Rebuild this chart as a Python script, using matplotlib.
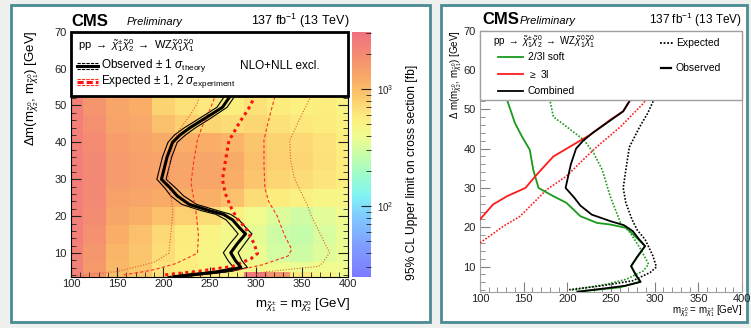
import matplotlib
matplotlib.use("Agg")
import matplotlib.pyplot as plt
import numpy as np
from matplotlib.colors import LinearSegmentedColormap, LogNorm
from matplotlib.patches import Rectangle
from matplotlib.ticker import MultipleLocator, NullFormatter

plt.rcParams['font.family'] = ['Liberation Sans', 'DejaVu Sans']
plt.rcParams['mathtext.fontset'] = 'custom'
plt.rcParams['mathtext.rm'] = 'Liberation Sans'
plt.rcParams['mathtext.it'] = 'Liberation Sans:italic'
plt.rcParams['mathtext.bf'] = 'Liberation Sans:bold'

# ---- upper limit map (fb), rows = dm bins bottom->top, cols = mass bins
mass_edges = [100, 112.5, 137.5, 162.5, 187.5, 212.5, 237.5, 262.5, 287.5, 312.5, 337.5, 362.5, 387.5, 400]
dm_edges = [3.6, 5, 7.5, 12.5, 17.5, 22.5, 27.5, 32.5, 37.5, 42.5, 47.5, 52.5, 57.5]
limit_fb = [
    [2300, 1700, 1000, 900, 650, 620, 560, 520, 2600, 1700, 600, 480, 420],
    [2300, 1600, 1050, 880, 620, 560, 500, 450, 440, 400, 380, 420, 400],
    [2300, 1650, 1100, 900, 680, 560, 480, 430, 380, 310, 290, 340, 380],
    [2350, 1800, 1200, 950, 720, 580, 500, 430, 360, 290, 270, 320, 370],
    [2400, 1950, 1350, 1150, 950, 800, 700, 520, 420, 330, 300, 350, 400],
    [2450, 2050, 1450, 1350, 1250, 1150, 1150, 950, 700, 580, 520, 480, 480],
    [2450, 2100, 1550, 1450, 1400, 1350, 1350, 1200, 900, 750, 700, 620, 560],
    [2450, 2100, 1550, 1450, 1400, 1350, 1350, 1250, 950, 800, 750, 650, 580],
    [2400, 2000, 1500, 1400, 1250, 1200, 1200, 1100, 900, 780, 720, 640, 560],
    [2400, 1850, 1400, 1300, 950, 800, 750, 700, 750, 650, 600, 580, 520],
    [2350, 1700, 1350, 1200, 780, 650, 600, 560, 650, 580, 540, 560, 500],
    [2300, 1650, 1300, 1150, 750, 620, 580, 540, 620, 560, 520, 540, 480],
]

# ---- contours (mass [GeV] vs dm [GeV])
obs_dm = [3.6, 4.3, 5.1, 6.1, 8, 10.1, 12.5, 15.2, 17, 19, 20.5, 21.5, 23.2, 25.5, 27.5, 30, 33, 36, 40, 42, 44, 46.5, 49.5, 52.4, 56]
obs_m = [212, 238, 266, 284, 278, 273, 280, 289, 282, 275, 265, 250, 228, 215, 208, 198, 201, 204, 210, 218, 229, 245, 264, 272, 278]
obs_up_m = [222, 248, 275, 291, 285, 281, 288, 296, 289, 282, 273, 259, 236, 222, 214, 203, 206, 209, 215, 224, 235, 251, 269, 277, 283]
obs_dn_m = [205, 228, 257, 276, 270, 265, 272, 281, 275, 268, 257, 241, 220, 208, 202, 193, 196, 199, 205, 212, 223, 239, 258, 266, 272]

exp_dm = [4.1, 5.1, 6.4, 8.5, 9.9, 12.7, 16.9, 19.3, 22, 26.2, 30, 34.6, 40.4, 45.6, 49, 52.4, 56]
exp_m = [202, 239, 275, 295, 302, 298, 289, 280, 274, 267, 264, 267, 271, 283, 292, 299, 305]

exp_m1_dm = [4.1, 4.9, 5.5, 7.2, 10, 15, 20, 23, 29, 35, 40.7, 44.3, 48, 52.4, 56]
exp_m1_m = [157, 177, 190, 214, 237, 238, 236, 234, 230, 233, 237, 242, 249, 256, 262]
exp_p1_dm = [4.1, 5.4, 6.8, 9.2, 11, 15, 20.2, 24, 27.6, 34, 40.6, 46, 52.6, 56]
exp_p1_m = [239, 281, 307, 335, 339, 331, 323, 314, 310, 309, 309, 314, 321, 325]
exp_m2_dm = [4.0, 5.0, 7.5, 10, 15, 20, 22, 26, 29.5, 35, 40, 43.3, 47, 50.7, 55.3]
exp_m2_m = [113, 150, 190, 206, 208, 210, 210, 208, 205, 207, 211, 217, 228, 237, 242]
exp_p2_dm = [4.1, 4.9, 6.4, 7.2, 10.1, 15.7, 20.2, 23, 30.2, 35, 40.6, 46, 52.6, 56]
exp_p2_m = [300, 310, 368, 372, 380, 369, 360, 356, 342, 338, 337, 347, 360, 366]

soft_obs_dm = [3.6, 4.7, 6.1, 10.1, 15.2, 19.8, 20.7, 21.1, 22.8, 26.2, 27.9, 30, 34.6, 39.7, 43.1, 46.5, 52.4, 56]
soft_obs_m = [212, 260, 283, 273, 289, 268, 249, 234, 215, 199, 184, 167, 161, 157, 148, 140, 131, 127]
soft_exp_dm = [4.0, 5.5, 6.8, 8.9, 10.6, 14.4, 18.6, 21.1, 27.9, 34.6, 38.9, 42.2, 45.6, 48.1, 52.4, 56]
soft_exp_m = [205, 245, 268, 287, 293, 284, 272, 261, 249, 240, 230, 219, 199, 184, 180, 178]
lep3_obs_dm = [22, 25.8, 27.9, 30, 33.4, 38, 40.5, 43.5, 47.3, 49.5, 52.4, 56]
lep3_obs_m = [100, 115, 131, 152, 165, 184, 203, 226, 249, 264, 272, 278]
lep3_exp_dm = [16, 20.3, 22.8, 29.5, 33, 38, 40.5, 45.6, 51.5, 56]
lep3_exp_m = [100, 127, 146, 176, 199, 222, 234, 261, 287, 300]

W, H = 751, 328
fig = plt.figure(figsize=(W / 100, H / 100), dpi=100, facecolor='#eef0ee')


def fbox(x0, y0, x1, y1):
    # pixel box -> figure fractions
    return [x0 / W, 1 - y1 / H, (x1 - x0) / W, (y1 - y0) / H]


# slide panels
for b in [fbox(11, 5, 430, 322), fbox(441, 5, 747, 322)]:
    fig.add_artist(Rectangle((b[0], b[1]), b[2], b[3], transform=fig.transFigure,
                             fc='white', ec='#4a8a94', lw=2, zorder=-5))

cmap = LinearSegmentedColormap.from_list('pastel', [
    (0.00, '#7b7bff'), (0.12, '#7f9cff'), (0.25, '#80ccff'), (0.33, '#80f4f4'),
    (0.42, '#a0fcc8'), (0.50, '#c8fca8'), (0.57, '#eefc90'), (0.64, '#fcf080'),
    (0.72, '#fcd070'), (0.80, '#f9ae66'), (0.88, '#f5946e'), (1.00, '#f07080')])
norm = LogNorm(vmin=25, vmax=3100)

# ================= left panel =================
ax1 = fig.add_axes(fbox(71, 31.7, 348, 276.7))
mesh = ax1.pcolormesh(mass_edges, dm_edges, np.array(limit_fb), cmap=cmap, norm=norm, shading='flat', zorder=1)

ax1.plot(obs_up_m, obs_dm, color='black', lw=0.8, zorder=3)
ax1.plot(obs_dn_m, obs_dm, color='black', lw=0.8, zorder=3)
ax1.plot(obs_m, obs_dm, color='black', lw=2.2, zorder=4)
ax1.plot(exp_m, exp_dm, color='#ff1010', lw=2.2, ls=(0, (1, 1.2)), zorder=3)
ax1.plot(exp_m1_m, exp_m1_dm, color='#ff3020', lw=0.8, ls=(0, (3, 2)), zorder=3)
ax1.plot(exp_p1_m, exp_p1_dm, color='#ff3020', lw=0.8, ls=(0, (3, 2)), zorder=3)
ax1.plot(exp_m2_m, exp_m2_dm, color='#e06030', lw=0.8, ls=(0, (1, 1.5)), zorder=3)
ax1.plot(exp_p2_m, exp_p2_dm, color='#e06030', lw=0.8, ls=(0, (1, 1.5)), zorder=3)

ax1.set_xlim(100, 400)
ax1.set_ylim(3.6, 70)
ax1.xaxis.set_major_locator(MultipleLocator(50))
ax1.xaxis.set_minor_locator(MultipleLocator(10))
ax1.yaxis.set_major_locator(MultipleLocator(10))
ax1.yaxis.set_minor_locator(MultipleLocator(2))
ax1.tick_params(which='both', direction='in', top=True, right=True, labelsize=8, colors='#222222')
ax1.tick_params(which='major', length=7)
ax1.tick_params(which='minor', length=3.5)
ax1.tick_params(axis='y', pad=3)
ax1.tick_params(axis='x', pad=2)
ax1.set_yticks([10, 20, 30, 40, 50, 60, 70])

# legend box
y0 = (52.6 - 3.6) / (70 - 3.6)
ax1.add_patch(Rectangle((0, y0), 1, 1 - y0, transform=ax1.transAxes, fc='white', ec='black', lw=2, zorder=5, clip_on=False))
ax1.text(0.025, 0.942, r'pp $\rightarrow$ $\tilde{\chi}^{\pm}_{1}\tilde{\chi}^{0}_{2}$ $\rightarrow$ WZ$\tilde{\chi}^{0}_{1}\tilde{\chi}^{0}_{1}$',
         transform=ax1.transAxes, fontsize=8, va='center', zorder=6)
ax1.plot([0.022, 0.097], [0.872, 0.872], transform=ax1.transAxes, color='black', lw=0.8, ls=(0, (3, 1)), zorder=6)
ax1.plot([0.022, 0.097], [0.860, 0.860], transform=ax1.transAxes, color='black', lw=2.2, zorder=6)
ax1.plot([0.022, 0.097], [0.848, 0.848], transform=ax1.transAxes, color='black', lw=0.8, ls=(0, (3, 1)), zorder=6)
ax1.text(0.108, 0.860, r'Observed $\pm$ 1 $\sigma_{\mathrm{theory}}$', transform=ax1.transAxes, fontsize=8.5, va='center', zorder=6)
ax1.text(0.61, 0.862, 'NLO+NLL excl.', transform=ax1.transAxes, fontsize=8.5, va='center', zorder=6)
ax1.plot([0.022, 0.097], [0.808, 0.808], transform=ax1.transAxes, color='#ff3020', lw=0.8, ls=(0, (3, 1)), zorder=6)
ax1.plot([0.022, 0.097], [0.795, 0.795], transform=ax1.transAxes, color='#ff1010', lw=2.2, ls=(0, (2, 1)), zorder=6)
ax1.plot([0.022, 0.097], [0.782, 0.782], transform=ax1.transAxes, color='#ff3020', lw=0.8, ls=(0, (3, 1)), zorder=6)
ax1.text(0.108, 0.797, r'Expected $\pm$ 1, 2 $\sigma_{\mathrm{experiment}}$', transform=ax1.transAxes, fontsize=8.5, va='center', zorder=6)

cax = fig.add_axes(fbox(352, 31.7, 371, 276.7))
cb = fig.colorbar(mesh, cax=cax)
cb.outline.set_visible(False)
cax.set_yticks([100, 1000])
cax.set_yticklabels([r'$10^{2}$', r'$10^{3}$'])
cax.yaxis.set_minor_formatter(NullFormatter())
cax.tick_params(which='both', direction='in', right=True, left=False, labelsize=7, colors='#222222', pad=4)
cax.tick_params(which='major', length=7)
cax.tick_params(which='minor', length=3.5)

fig.text(412 / W, 1 - 172 / H, '95% CL Upper limit on cross section [fb]', rotation=90,
         ha='center', va='center', fontsize=8.7)
fig.text(32 / W, 1 - 30 / H, r'$\Delta$m(m$_{\tilde{\chi}^{0}_{2}}$, m$_{\tilde{\chi}^{0}_{1}}$) [GeV]',
         rotation=90, ha='center', va='top', fontsize=9.5)
fig.text(350 / W, 1 - 305 / H, r'm$_{\tilde{\chi}^{\pm}_{1}}$ = m$_{\tilde{\chi}^{0}_{2}}$ [GeV]',
         ha='right', va='center', fontsize=9.5)
fig.text(71 / W, 1 - 21 / H, 'CMS', fontsize=12, weight='bold', va='center')
fig.text(127 / W, 1 - 22 / H, 'Preliminary', fontsize=8, style='italic', va='center')
fig.text(350 / W, 1 - 21 / H, r'137 fb$^{-1}$ (13 TeV)', fontsize=9, ha='right', va='center')

# ================= right panel =================
ax2 = fig.add_axes(fbox(480, 30.7, 742, 291.7))
ax2.plot(soft_exp_m, soft_exp_dm, color='#1a9a1a', lw=1.2, ls=(0, (1, 1)), zorder=3)
ax2.plot(lep3_exp_m, lep3_exp_dm, color='#ff1a1a', lw=1.2, ls=(0, (1, 1)), zorder=3)
ax2.plot(exp_m, exp_dm, color='black', lw=1.2, ls=(0, (1, 1)), zorder=3)
ax2.plot(soft_obs_m, soft_obs_dm, color='#1a9a1a', lw=1.3, zorder=3)
ax2.plot(lep3_obs_m, lep3_obs_dm, color='#ff1a1a', lw=1.3, zorder=3)
ax2.plot(obs_m, obs_dm, color='black', lw=1.3, zorder=4)

ax2.set_xlim(100, 400)
ax2.set_ylim(3.6, 70)
ax2.xaxis.set_major_locator(MultipleLocator(50))
ax2.xaxis.set_minor_locator(MultipleLocator(10))
ax2.set_yticks([10, 20, 30, 40, 50, 60, 70])
ax2.yaxis.set_minor_locator(MultipleLocator(2))
ax2.tick_params(which='both', direction='in', labelsize=8, color='#808080', labelcolor='#222222')
ax2.tick_params(which='major', length=7)
ax2.tick_params(which='minor', length=3.5)
ax2.tick_params(axis='y', pad=3)
ax2.tick_params(axis='x', pad=2)
for s in ax2.spines.values():
    s.set_color('#a0a0a0')

y0 = (52.35 - 3.6) / (70 - 3.6)
ax2.add_patch(Rectangle((0, y0), 1, 1 - y0, transform=ax2.transAxes, fc='white', ec='#a0a0a0', lw=1, zorder=5, clip_on=False))
ax2.text(0.05, 0.957, r'pp $\rightarrow$ $\tilde{\chi}^{\pm}_{1}\tilde{\chi}^{0}_{2}$ $\rightarrow$ WZ$\tilde{\chi}^{0}_{1}\tilde{\chi}^{0}_{1}$',
         transform=ax2.transAxes, fontsize=7, va='center', zorder=6)
for yy, col, lab in [(0.899, '#1a9a1a', '2/3l soft'), (0.834, '#ff1a1a', r'$\geq$ 3l'), (0.769, 'black', 'Combined')]:
    ax2.plot([0.069, 0.164], [yy, yy], transform=ax2.transAxes, color=col, lw=1.3, zorder=6)
    ax2.text(0.183, yy, lab, transform=ax2.transAxes, fontsize=7.5, va='center', zorder=6)
ax2.plot([0.687, 0.737], [0.953, 0.953], transform=ax2.transAxes, color='black', lw=1.3, ls=(0, (1, 1)), zorder=6)
ax2.text(0.748, 0.953, 'Expected', transform=ax2.transAxes, fontsize=7.5, va='center', zorder=6)
ax2.plot([0.691, 0.729], [0.857, 0.857], transform=ax2.transAxes, color='black', lw=1.6, zorder=6)
ax2.text(0.748, 0.857, 'Observed', transform=ax2.transAxes, fontsize=7.5, va='center', zorder=6)

fig.text(456 / W, 1 - 30 / H, r'$\Delta$ m(m$_{\tilde{\chi}^{0}_{2}}$, m$_{\tilde{\chi}^{0}_{1}}$) [GeV]',
         rotation=90, ha='center', va='top', fontsize=7)
fig.text(742 / W, 1 - 311 / H, r'm$_{\tilde{\chi}^{0}_{2}}$ = m$_{\tilde{\chi}^{\pm}_{1}}$ [GeV]',
         ha='right', va='center', fontsize=7)
fig.text(482 / W, 1 - 20 / H, 'CMS', fontsize=12, weight='bold', va='center')
fig.text(520 / W, 1 - 21 / H, 'Preliminary', fontsize=8, style='italic', va='center')
fig.text(742 / W, 1 - 20 / H, r'137 fb$^{-1}$ (13 TeV)', fontsize=8.5, ha='right', va='center')

plt.savefig('out.png', dpi=100, facecolor=fig.get_facecolor())
